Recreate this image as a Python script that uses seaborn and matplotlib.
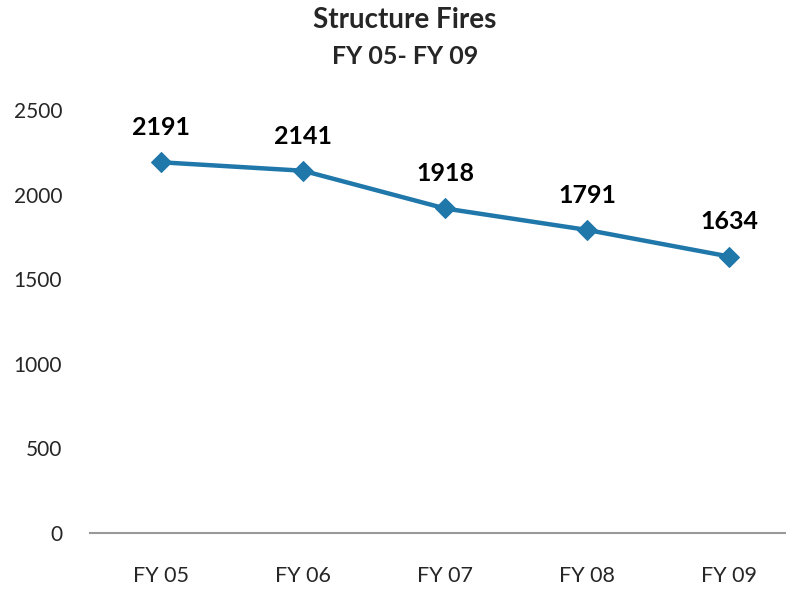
import numpy as np
import pandas as pd
import seaborn as sns
import matplotlib.pyplot as plt

sns.set_theme(style='white')
plt.rcParams['font.family'] = ['Lato', 'DejaVu Sans']

years = ['FY 05', 'FY 06', 'FY 07', 'FY 08', 'FY 09']
fires = [2191, 2141, 1918, 1791, 1634]
yticks = [0, 500, 1000, 1500, 2000, 2500]

df = pd.DataFrame({'Year': years, 'Fires': fires})
line_color = '#1F77AA'

fig = plt.figure(figsize=(7.86, 5.9), dpi=100)
ax = fig.add_axes([90 / 786, 57 / 590, 1 - 90 / 786, 423 / 590])

sns.lineplot(data=df, x='Year', y='Fires', ax=ax, color=line_color,
             linewidth=3.2, marker='D', markersize=10, markeredgecolor=line_color,
             sort=False)

for i, v in enumerate(fires):
    ax.annotate(str(v), (i, v), xytext=(0, 25), textcoords='offset points',
                ha='center', va='center', fontsize=18, fontweight='bold', color='black')

ax.set_xlim(-0.5, 4.4)
ax.set_ylim(0, 2500)
ax.set_yticks(yticks)
ax.set_yticklabels([str(t) for t in yticks], fontsize=15)
ax.tick_params(axis='x', labelsize=15.5, pad=24, length=0)
ax.tick_params(axis='y', pad=20, length=0)
ax.set_xlabel('')
ax.set_ylabel('')
for s in ['top', 'right', 'left']:
    ax.spines[s].set_visible(False)
ax.spines['bottom'].set_color('#999999')
ax.spines['bottom'].set_linewidth(1.5)
ax.patch.set_alpha(0)

fig.text(405 / 786, 1 - 20 / 590, 'Structure Fires', ha='center', va='center',
         fontsize=20, fontweight='bold')
fig.text(405 / 786, 1 - 57 / 590, 'FY 05- FY 09', ha='center', va='center',
         fontsize=18, fontweight='bold')

fig.savefig('out.png', dpi=100)
